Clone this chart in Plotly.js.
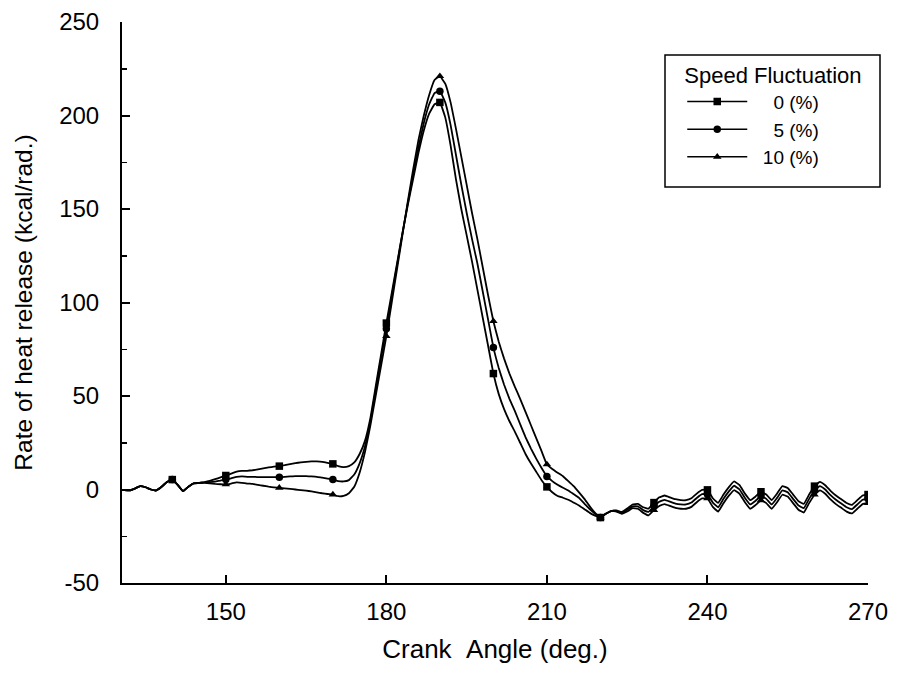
<!DOCTYPE html>
<html>
<head>
<meta charset="utf-8">
<script src="https://cdn.plot.ly/plotly-3.0.1.min.js"></script>
<style>
  html, body { margin: 0; padding: 0; background: #fff; }
  #chart { width: 898px; height: 694px; }
</style>
</head>
<body>
<div id="chart"></div>
<script>
// Crank angle (deg.), one value per degree from 130 to 270
const angle = [];
for (let a = 130; a <= 270; a++) angle.push(a);

// Rate of heat release (kcal/rad.) — speed fluctuation 0 %
const q0 = [
  0, -0.3, -0.5, 0.5, 1.8, 1.2, 0, -0.5, 1.5, 4,            // 130-139
  5.3, 2.5, -0.9, 1.5, 3.3, 3.6, 4.0, 4.6, 5.5, 6.5,         // 140-149
  7.5, 8.5, 9.5, 10, 10, 10.3, 10.8, 11.3, 11.8, 12.2,       // 150-159
  12.5, 13, 13.6, 14.1, 14.5, 14.8, 15, 15, 14.8, 14.3,      // 160-169
  13.7, 12.5, 12, 12.5, 14.5, 19, 26, 38, 55, 72,            // 170-179
  89, 105, 121, 137, 152, 166, 180, 192, 201, 206,           // 180-189
  207, 199, 184, 166, 150, 136, 122, 107, 92, 77,            // 190-199
  62, 51, 43, 36.5, 31, 25, 19, 14, 9.5, 5,                  // 200-209
  1.4, -1.5, -3.5, -4.4, -5.5, -7, -8.5, -10.5, -12.5, -14,  // 210-219
  -15, -13, -11.5, -11.2, -12, -10.2, -8, -7.7, -9.5, -10.2, // 220-229
  -7, -4.2, -3.2, -4.2, -5.2, -5.7, -5.7, -4.7, -2.2, -0.2,  // 230-239
  -0.2, -4.7, -7.2, -2.7, 1.3, 4.3, 2.3, -2.2, -5.7, -3.7,   // 240-249
  -1.2, -2.7, -5.7, -2.2, 1.8, 0.8, -2.7, -6.2, -7.7, -2.7,  // 250-259
  1.8, 4.1, 2.3, -0.7, -3.2, -5.2, -7.2, -8.2, -5.7, -3.2,   // 260-269
  -2.7                                                       // 270
];

// speed fluctuation 5 %
const q5 = [
  0, -0.3, -0.5, 0.5, 1.8, 1.2, 0, -0.5, 1.5, 4,
  5.3, 2.5, -0.9, 1.5, 3.3, 3.5, 3.8, 3.9, 4.2, 4.8,
  5.3, 6, 6.8, 7, 6.8, 6.8, 6.6, 6.6, 6.6, 6.6,
  6.6, 6.8, 7, 7.1, 7.1, 7.1, 7, 6.8, 6.3, 5.8,
  5.3, 4.5, 4.3, 5, 8, 14, 23, 36, 53, 70,
  86, 103, 120, 137, 153, 168, 183, 196, 206, 212,
  213, 207, 195, 179, 163, 148, 134, 121, 106, 91,
  76, 65, 56, 48.5, 42, 35, 28, 22, 16.5, 11.5,
  7, 4.5, 2.5, 0.9, -0.5, -2.5, -4.5, -7.5, -10.5, -13,
  -15, -13, -11.5, -11.5, -12.5, -11, -9, -9, -11, -12,
  -9, -6.5, -5.5, -6.5, -7.5, -8, -8, -7, -4.5, -2.5,
  -2.5, -7, -9.5, -5, -1, 2, 0, -4.5, -8, -6,
  -3.5, -5, -8, -4.5, -0.5, -1.5, -5, -8.5, -10, -5,
  -0.5, 1.8, 0, -3, -5.5, -7.5, -9.5, -10.5, -8, -5.5,
  -5
];

// speed fluctuation 10 %
const q10 = [
  0, -0.3, -0.5, 0.5, 1.8, 1.2, 0, -0.5, 1.5, 4,
  5.3, 2.5, -0.9, 1.5, 3.3, 3.4, 3.5, 3.3, 3, 2.8,
  2.7, 3.2, 3.8, 3.6, 3.2, 3, 2.5, 2, 1.5, 1.1,
  0.9, 0.6, 0.3, 0, -0.3, -0.6, -1, -1.5, -2, -2.4,
  -2.7, -3.6, -3.4, -2, 1.5, 9, 20, 34, 50, 66,
  82, 100, 118, 136, 154, 171, 187, 200, 211, 219,
  221, 217, 207, 193, 178, 163, 148, 134, 119, 104,
  90, 79, 70, 62, 55, 48.5, 41.5, 34.5, 27.5, 20.5,
  13.4, 11, 9, 7.1, 4.5, 1.8, -1.5, -5, -9, -12.5,
  -15, -13, -11.5, -11.8, -13, -11.8, -10, -10.3, -12.5, -13.8,
  -11, -8.8, -7.8, -8.8, -9.8, -10.3, -10.3, -9.3, -6.8, -4.8,
  -4.8, -9.3, -11.8, -7.3, -3.3, -0.3, -2.3, -6.8, -10.3, -8.3,
  -5.8, -7.3, -10.3, -6.8, -2.8, -3.8, -7.3, -10.8, -12.3, -7.3,
  -2.8, -0.5, -2.3, -5.3, -7.8, -9.8, -11.8, -12.8, -10.3, -7.8,
  -7.3
];

// Tick labels
const xTickVals = [150, 180, 210, 240, 270];
const xTickText = ['150', '180', '210', '240', '270'];
const yTickVals = [-50, 0, 50, 100, 150, 200, 250];
const yTickText = ['-50', '0', '50', '100', '150', '200', '250'];

const seriesNames = ['\u2007\u20070 (%)', '\u2007\u20075 (%)', '\u200710 (%)'];
const seriesData = [q0, q5, q10];
const symbols = ['square', 'circle', 'triangle-up'];
const markerEvery = 10;      // a marker every 10 degrees
const firstMarker = 140;

const FONT = 'Arial, "Liberation Sans", Helvetica, sans-serif';
const traces = [];

seriesData.forEach((ys, i) => {
  traces.push({
    x: angle, y: ys, type: 'scatter', mode: 'lines',
    line: { color: '#000', width: 1.8, shape: 'spline', smoothing: 0.3 },
    showlegend: false, hoverinfo: 'skip'
  });
  const mx = [], my = [];
  angle.forEach((a, k) => {
    if (a >= firstMarker && a % markerEvery === 0) { mx.push(a); my.push(ys[k]); }
  });
  traces.push({
    x: mx, y: my, type: 'scatter', mode: 'markers',
    marker: { symbol: symbols[i], size: 7.5, color: '#000' },
    showlegend: false, hoverinfo: 'skip'
  });
});

seriesNames.forEach((name, i) => {
  traces.push({
    x: [null], y: [null], type: 'scatter', mode: 'lines+markers', name: name,
    line: { color: '#000', width: 1.5 },
    marker: { symbol: symbols[i], size: 7.5, color: '#000' }
  });
});

const layout = {
  width: 898, height: 694,
  margin: { l: 122, r: 30, t: 22, b: 111 },
  paper_bgcolor: '#fff', plot_bgcolor: '#fff',
  font: { family: FONT, color: '#000', size: 22 },
  xaxis: {
    range: [130.6, 270],
    tickmode: 'array', tickvals: xTickVals, ticktext: xTickText,
    showgrid: false, zeroline: false,
    showline: true, linecolor: '#000', linewidth: 2,
    ticks: 'inside', ticklen: 8, tickwidth: 2, tickcolor: '#000',
    ticklabelstandoff: 6,
    tickfont: { family: FONT, size: 24, color: '#000' },
    title: { text: 'Crank\u00a0\u00a0Angle (deg.)', font: { family: FONT, size: 26, color: '#000' }, standoff: 16 }
  },
  yaxis: {
    range: [-50, 250],
    tickmode: 'array', tickvals: yTickVals, ticktext: yTickText,
    showgrid: false, zeroline: false,
    showline: true, linecolor: '#000', linewidth: 2,
    ticks: 'inside', ticklen: 8, tickwidth: 2, tickcolor: '#000',
    minor: { tickmode: 'linear', tick0: 0, dtick: 25, ticks: 'inside', ticklen: 5, tickwidth: 1.5, tickcolor: '#000', showgrid: false },
    ticklabelstandoff: 16,
    tickfont: { family: FONT, size: 24, color: '#000' },
    title: { text: 'Rate of heat release (kcal/rad.)', font: { family: FONT, size: 24.5, color: '#000' }, standoff: 20 }
  },
  showlegend: true,
  legend: {
    x: 0.751, y: 0.943, xanchor: 'left', yanchor: 'top',
    bgcolor: 'rgba(0,0,0,0)', borderwidth: 0,
    font: { family: FONT, size: 19, color: '#000' },
    title: { text: 'Speed Fluctuation', font: { family: FONT, size: 22, color: '#000' } },
    itemwidth: 60, tracegroupgap: 0
  },
  shapes: [{
    type: 'rect', xref: 'paper', yref: 'paper',
    x0: (665 - 122) / 746, x1: (880 - 122) / 746,
    y0: (583 - 187) / 561, y1: (583 - 55) / 561,
    line: { color: '#000', width: 1.5 }, fillcolor: 'rgba(0,0,0,0)'
  }]
};

Plotly.newPlot('chart', traces, layout, { staticPlot: true });
</script>
</body>
</html>
